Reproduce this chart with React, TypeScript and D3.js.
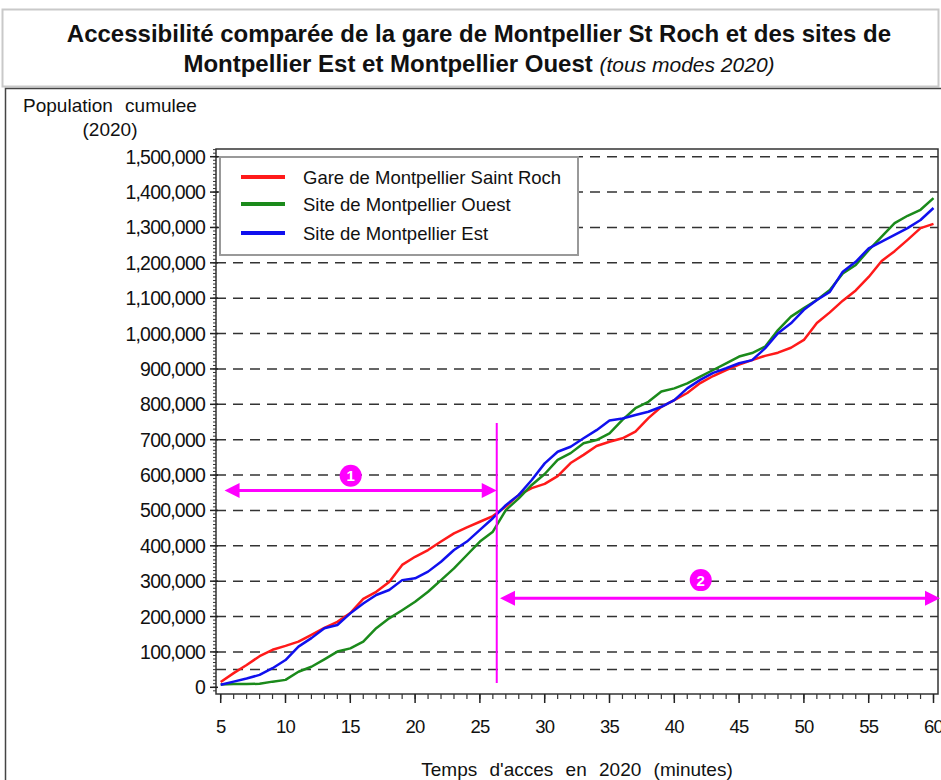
import React from 'react';
import * as d3 from 'd3';

// minutes of access time (x categories)
const minutes = [5, 6, 7, 8, 9, 10, 11, 12, 13, 14, 15, 16, 17, 18, 19, 20, 21, 22, 23, 24, 25, 26, 27, 28, 29, 30,
    31, 32, 33, 34, 35, 36, 37, 38, 39, 40, 41, 42, 43, 44, 45, 46, 47, 48, 49, 50, 51, 52, 53, 54, 55, 56, 57, 58, 59, 60];

// cumulated population, thousands
const saintRoch = [15, 40, 63, 88, 106, 117, 129, 148, 168, 185, 210, 250, 270, 298, 346, 369, 388, 412, 435, 452, 468, 484, 511, 544, 563, 575,
    597, 634, 657, 682, 694, 704, 723, 761, 793, 812, 832, 860, 880, 897, 912, 925, 937, 946, 960, 982, 1030, 1060, 1093, 1122, 1160, 1205, 1233, 1265, 1298, 1310];
const ouest = [8, 9, 9, 10, 16, 21, 44, 58, 79, 101, 110, 129, 167, 195, 218, 242, 270, 303, 336, 374, 412, 440, 501, 534, 572, 603,
    643, 662, 690, 699, 718, 756, 789, 807, 836, 845, 859, 878, 897, 916, 935, 945, 963, 1010, 1048, 1072, 1095, 1123, 1170, 1194, 1236, 1274, 1312, 1333, 1350, 1383];
const est = [7, 16, 25, 35, 54, 77, 115, 139, 167, 176, 209, 237, 261, 275, 303, 308, 327, 355, 388, 412, 445, 478, 515, 544, 586, 633,
    666, 680, 704, 727, 754, 760, 770, 779, 793, 812, 845, 869, 889, 902, 916, 925, 958, 1001, 1029, 1067, 1095, 1118, 1175, 1203, 1241, 1260, 1279, 1298, 1321, 1355];

const seriesNames = ['Gare de Montpellier Saint Roch', 'Site de Montpellier Ouest', 'Site de Montpellier Est'];
const seriesColors = ['#ff1a1a', '#1b8a1b', '#1010ee'];

const yTicks = [0, 100000, 200000, 300000, 400000, 500000, 600000, 700000, 800000, 900000, 1000000, 1100000, 1200000, 1300000, 1400000, 1500000];
const gridValues = [50000, 100000, 200000, 300000, 400000, 500000, 600000, 700000, 800000, 900000, 1000000, 1100000, 1200000, 1300000, 1400000, 1500000];
const xTicks = [5, 10, 15, 20, 25, 30, 35, 40, 45, 50, 55, 60];

// annotation (zone 1 / zone 2 split)
const splitMinute = 26.3;

const FONT = '"Liberation Sans", Arial, Helvetica, sans-serif';
const MAGENTA = '#ff00ff';

const App: React.FC = () => {
    const x = d3.scaleLinear().domain([5, 60]).range([220.7, 933.5]);
    const y = d3.scaleLinear().domain([0, 1500000]).range([687.3, 156.7]);

    const plotLeft = 216, plotRight = 938, plotTop = 149, plotBottom = 694;

    const series = [saintRoch, ouest, est];
    const line = d3.line<number>()
        .x((_, i) => x(minutes[i]))
        .y((d) => y(d * 1000));

    const fmt = d3.format(',');
    const minorY = d3.range(-10000, 1525000, 10000);
    const minorX = d3.range(5, 61, 1);

    const arrow = (tipX: number, tipY: number, dir: number) => {
        const L = 15, H = 7.5;
        return `M${tipX},${tipY}L${tipX - dir * L},${tipY - H}L${tipX - dir * L},${tipY + H}Z`;
    };

    const a1y = y(556000);
    const a2y = y(252000);
    const xs = x(splitMinute);

    return (
        <svg width={941} height={780} style={{ position: 'absolute', left: 0, top: 0, display: 'block', background: '#fff' }}
            fontFamily={FONT}>
            {/* title box */}
            <rect x={2.5} y={9.5} width={936} height={77} fill="#fff" stroke="#c9c9c9" strokeWidth={2} />
            <text x={479} y={42} textAnchor="middle" fontSize={24} fontWeight="bold" fill="#111">
                Accessibilité comparée de la gare de Montpellier St Roch et des sites de
            </text>
            <text x={479} y={72} textAnchor="middle" fontSize={24} fill="#111">
                <tspan fontWeight="bold">Montpellier Est et Montpellier Ouest </tspan>
                <tspan fontStyle="italic" fontSize={21}>(tous modes 2020)</tspan>
            </text>

            {/* chart frame */}
            <rect x={5.5} y={88.5} width={940} height={720} fill="none" stroke="#444" strokeWidth={1.5} />

            {/* grid */}
            {gridValues.map((v) => (
                <line key={v} x1={plotLeft} x2={plotRight} y1={y(v)} y2={y(v)}
                    stroke="#333" strokeWidth={1.5} strokeDasharray="10,7" />
            ))}

            {/* plot frame */}
            <rect x={plotLeft} y={plotTop} width={plotRight - plotLeft} height={plotBottom - plotTop}
                fill="none" stroke="#333" strokeWidth={1.5} />

            {/* y axis ticks */}
            {minorY.map((v) => (
                <line key={'my' + v} x1={plotLeft - 3} x2={plotLeft} y1={y(v)} y2={y(v)} stroke="#333" strokeWidth={1} />
            ))}
            {yTicks.map((v) => (
                <g key={'y' + v}>
                    <line x1={plotLeft - 6} x2={plotLeft + 2} y1={y(v)} y2={y(v)} stroke="#222" strokeWidth={1.5} />
                    <text x={205} y={y(v)} dy="0.36em" textAnchor="end" fontSize={19.5} letterSpacing={-0.8} fill="#111">
                        {fmt(v)}
                    </text>
                </g>
            ))}

            {/* x axis ticks */}
            {minorX.map((v) => (
                <line key={'mx' + v} x1={x(v)} x2={x(v)} y1={plotBottom} y2={plotBottom + 5} stroke="#333" strokeWidth={1.2} />
            ))}
            {xTicks.map((v) => (
                <g key={'x' + v}>
                    <line x1={x(v)} x2={x(v)} y1={plotBottom} y2={plotBottom + 9} stroke="#222" strokeWidth={1.5} />
                    <text x={x(v)} y={733} textAnchor="middle" fontSize={18.5} letterSpacing={-0.8} fill="#111">{v}</text>
                </g>
            ))}

            {/* axis titles */}
            <text x={110} y={112} textAnchor="middle" fontSize={19} wordSpacing={7} fill="#111">Population cumulee</text>
            <text x={110} y={136} textAnchor="middle" fontSize={19} fill="#111">(2020)</text>
            <text x={577} y={776} textAnchor="middle" fontSize={19} wordSpacing={7} fill="#111">
                Temps d'acces en 2020 (minutes)
            </text>

            {/* legend */}
            <rect x={220} y={157} width={358} height={98} fill="#fff" stroke="#999" strokeWidth={2} />
            {seriesNames.map((name, i) => {
                const ly = [177, 204, 233][i];
                return (
                    <g key={name}>
                        <line x1={241} x2={285} y1={ly} y2={ly} stroke={seriesColors[i]} strokeWidth={4} />
                        <text x={303} y={ly} dy="0.36em" fontSize={18.5} fill="#111">{name}</text>
                    </g>
                );
            })}

            {/* series */}
            {series.map((s, i) => (
                <path key={i} d={line(s) ?? ''} fill="none" stroke={seriesColors[i]} strokeWidth={2.5}
                    strokeLinejoin="round" />
            ))}

            {/* annotations */}
            <line x1={xs} x2={xs} y1={y(747000)} y2={y(12000)} stroke={MAGENTA} strokeWidth={2} />
            <line x1={x(5.3) + 12} x2={xs - 12} y1={a1y} y2={a1y} stroke={MAGENTA} strokeWidth={3} />
            <path d={arrow(x(5.3), a1y, -1)} fill={MAGENTA} />
            <path d={arrow(xs, a1y, 1)} fill={MAGENTA} />
            <circle cx={x(15.03)} cy={y(598000)} r={11} fill={MAGENTA} />
            <text x={x(15.03)} y={y(598000)} dy="0.36em" textAnchor="middle" fontSize={15} fontWeight="bold" fill="#fff">1</text>

            <line x1={x(26.55) + 12} x2={x(60.5) - 12} y1={a2y} y2={a2y} stroke={MAGENTA} strokeWidth={3} />
            <path d={arrow(x(26.55), a2y, -1)} fill={MAGENTA} />
            <path d={arrow(x(60.5), a2y, 1)} fill={MAGENTA} />
            <circle cx={x(42.04)} cy={y(303000)} r={11} fill={MAGENTA} />
            <text x={x(42.04)} y={y(303000)} dy="0.36em" textAnchor="middle" fontSize={15} fontWeight="bold" fill="#fff">2</text>
        </svg>
    );
};

export default App;
